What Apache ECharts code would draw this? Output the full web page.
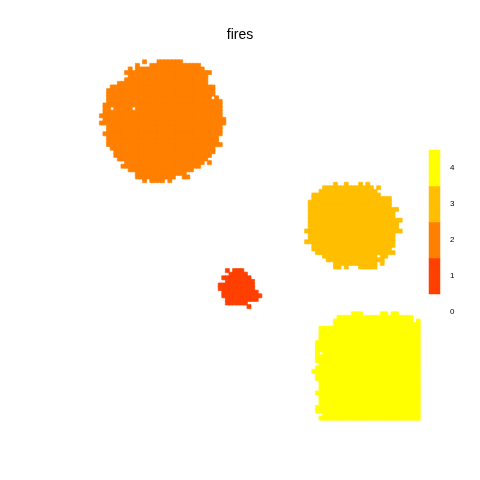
<!DOCTYPE html>
<html>
<head>
<meta charset="utf-8">
<script src="https://cdn.jsdelivr.net/npm/echarts@6/dist/echarts.min.js"></script>
<style>html,body{margin:0;padding:0;background:#fff}#c{width:480px;height:480px}</style>
</head>
<body>
<div id="c"></div>
<script>
// Raster is 100 x 100 cells; each fire is listed as row spans [row, firstCol, lastCol]
var nCols = 100;
var nRows = 100;
var fireValues = [1, 2, 3, 4];
var fireColors = ['#FF4000', '#FF8000', '#FFBF00', '#FFFF00'];
var legendLabels = ['0', '1', '2', '3', '4'];

var fire1Spans = [
  [58,46,46],[58,48,50],[59,47,51],[60,45,45],[60,46,52],[61,46,53],[62,44,53],
  [63,44,53],[64,45,54],[65,45,55],[66,46,54],[67,46,51],[68,52,52]
];
var fire2Spans = [
  [0,23,23],[0,27,33],[1,21,21],[1,25,38],[2,19,19],[2,21,39],[3,18,41],[4,19,40],
  [5,18,40],[6,16,40],[7,14,42],[8,13,42],[9,13,42],[10,13,41],[10,43,43],[11,13,44],
  [12,12,44],[13,12,13],[13,15,19],[13,21,44],[14,12,44],[15,11,44],[16,12,45],
  [17,11,45],[18,13,44],[19,13,44],[20,12,44],[21,13,43],[22,13,43],[23,13,44],
  [24,14,42],[25,15,42],[26,15,41],[27,16,40],[28,18,39],[28,41,41],[29,17,38],
  [30,19,36],[31,21,34],[32,21,31],[32,34,35],[33,23,23],[33,25,28],[33,30,30]
];
var fire3Spans = [
  [34,76,76],[34,79,79],[34,83,83],[34,85,85],[35,73,86],[35,88,88],[36,72,87],
  [37,70,88],[38,70,91],[39,69,91],[40,69,91],[41,69,93],[42,69,92],[43,69,92],
  [44,69,94],[45,69,93],[46,69,93],[47,68,94],[48,69,92],[49,69,92],[50,68,92],
  [51,70,92],[52,70,91],[53,71,92],[54,73,87],[54,89,90],[55,74,89],[56,76,87],
  [56,89,89],[57,76,77],[57,79,79],[57,83,87]
];
var fire4Spans = [
  [70,81,83],[70,89,90],[70,92,93],[71,77,97],[72,76,97],[72,99,99],[73,76,99],
  [74,72,99],[75,72,99],[76,72,99],[77,72,99],[78,71,99],[79,71,99],[80,71,99],
  [81,71,71],[81,73,99],[82,71,99],[83,71,99],[84,72,99],[85,71,99],[86,70,99],
  [87,71,99],[88,71,99],[89,72,99],[90,72,99],[91,72,99],[92,71,99],[93,72,99],
  [94,72,99],[95,72,99],[96,71,99],[97,71,99],[98,73,99],[99,72,99]
];

function styled(value, v) {
  var col = fireColors[fireValues.indexOf(v)];
  return { value: value, itemStyle: { color: col, borderColor: col, borderWidth: 0.6 } };
}

var allSpans = [fire1Spans, fire2Spans, fire3Spans, fire4Spans];
var cells = [];
allSpans.forEach(function (spans, i) {
  spans.forEach(function (s) {
    for (var c = s[1]; c <= s[2]; c++) cells.push(styled([c, s[0], fireValues[i]], fireValues[i]));
  });
});
var xCats = [], yCats = [];
for (var i = 0; i < nCols; i++) xCats.push(String(i));
for (var j = 0; j < nRows; j++) yCats.push(String(j));
var legendCells = fireValues.map(function (v) {
  var col = fireColors[fireValues.indexOf(v)];
  return { value: [0, v, v], itemStyle: { color: col, borderWidth: 0 } };
});

var chart = echarts.init(document.getElementById('c'), null, { renderer: 'canvas' });
chart.setOption({
  animation: false,
  backgroundColor: '#ffffff',
  title: {
    text: 'fires', left: 'center', top: 23,
    textStyle: { fontFamily: 'Liberation Sans, Arial, sans-serif', fontSize: 14, fontWeight: 'normal', color: '#000' }
  },
  grid: [
    { left: 60, top: 60, width: 360, height: 360 },
    { left: 429, top: 150, width: 11, height: 180 }
  ],
  xAxis: [
    { type: 'category', data: xCats, gridIndex: 0, show: false },
    { type: 'category', data: ['0'], gridIndex: 1, show: false }
  ],
  yAxis: [
    { type: 'category', data: yCats, gridIndex: 0, inverse: true, show: false },
    { type: 'category', data: legendLabels, gridIndex: 1, position: 'right',
      axisLine: { show: false }, axisTick: { show: false }, splitLine: { show: false },
      axisLabel: { margin: 10, fontSize: 8, color: '#000', fontFamily: 'Liberation Sans, Arial, sans-serif' } }
  ],
  series: [
    { type: 'heatmap', xAxisIndex: 0, yAxisIndex: 0, data: cells, emphasis: { disabled: true } },
    { type: 'heatmap', xAxisIndex: 1, yAxisIndex: 1, data: legendCells, emphasis: { disabled: true } }
  ]
});
</script>
</body>
</html>
